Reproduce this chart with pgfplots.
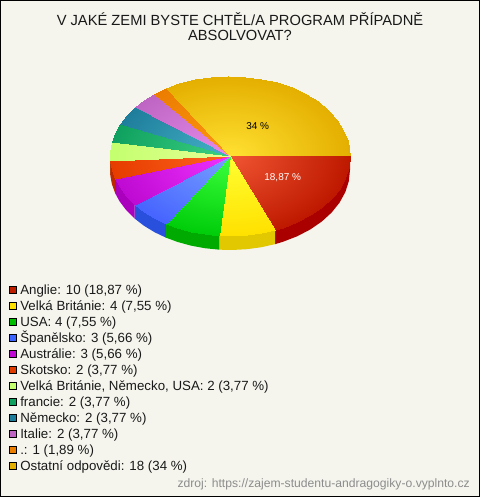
\documentclass[border=0pt]{standalone}
\usepackage{pgfplots}
\pgfplotsset{compat=1.18}
\usepackage{fontspec}
\setmainfont{Liberation Sans}
\definecolor{bg}{RGB}{245,245,238}
\definecolor{c1}{RGB}{190,30,0}
\definecolor{c2}{RGB}{255,225,0}
\definecolor{c3}{RGB}{0,190,0}
\definecolor{c4}{RGB}{60,100,255}
\definecolor{c5}{RGB}{190,10,210}
\definecolor{c6}{RGB}{225,60,0}
\definecolor{c7}{RGB}{195,255,110}
\definecolor{c8}{RGB}{15,160,95}
\definecolor{c9}{RGB}{30,125,155}
\definecolor{c10}{RGB}{190,100,195}
\definecolor{c11}{RGB}{235,125,0}
\definecolor{c12}{RGB}{228,175,0}
\definecolor{w1}{RGB}{170,0,0}
\definecolor{w2}{RGB}{225,200,0}
\definecolor{w3}{RGB}{0,170,0}
\definecolor{w4}{RGB}{40,80,220}
\definecolor{w5}{RGB}{170,0,190}
\definecolor{w6}{RGB}{190,40,0}
\definecolor{w7}{RGB}{160,215,90}
\pgfplotsset{
  table/pt/.style={x expr=230+120*\thisrow{r}*cos(\thisrow{t}), y expr=156+80*\thisrow{r}*sin(\thisrow{t})},
  table/ps/.style={x expr=230+120*cos(\thisrow{t}), y expr=156+80*sin(\thisrow{t})+\thisrow{h}},
  wedge/.style={forget plot, surf, shader=interp, mesh/cols=2, point meta=\thisrow{r}, point meta min=0, point meta max=1},
  wall/.style={forget plot, fill=#1, draw=none, mark=none},
  swatch/.style={legend image code/.code={\draw[fill=#1,draw=black,line width=.8pt] (0pt,-1pt) rectangle (7pt,6pt);}},
  colormap={s1}{rgb255=(240,85,50) rgb255=(190,25,0)},
  colormap={s2}{rgb255=(255,255,50) rgb255=(255,225,0)},
  colormap={s3}{rgb255=(60,255,60) rgb255=(0,205,10)},
  colormap={s4}{rgb255=(120,160,255) rgb255=(70,100,255)},
  colormap={s5}{rgb255=(240,50,255) rgb255=(190,10,210)},
  colormap={s6}{rgb255=(255,100,30) rgb255=(230,60,0)},
  colormap={s7}{rgb255=(230,255,150) rgb255=(195,255,110)},
  colormap={s8}{rgb255=(60,210,130) rgb255=(15,160,95)},
  colormap={s9}{rgb255=(70,180,200) rgb255=(30,125,155)},
  colormap={s10}{rgb255=(230,140,235) rgb255=(190,100,195)},
  colormap={s11}{rgb255=(255,150,20) rgb255=(235,125,0)},
  colormap={s12}{rgb255=(255,225,50) rgb255=(228,175,0)},
}
\begin{document}
\begin{tikzpicture}
\begin{axis}[
  scale only axis, width=479pt, height=496pt,
  xmin=0.5, xmax=479.5, ymin=0.5, ymax=496.5, y dir=reverse,
  xtick=\empty, ytick=\empty, clip=false,
  axis line style={black, line width=1pt},
  axis background/.style={fill=bg},
  legend cell align=left,
  legend style={at={(axis cs:9,284)}, anchor=north west, draw=none, fill=none, inner sep=0pt, outer sep=0pt,
    font=\fontsize{13.3}{15}\selectfont, row sep=0pt,
    nodes={inner sep=0pt, text height=10.5pt, text depth=5.5pt, text=black!90}, /tikz/column 1/.style={column sep=3.5pt}},
]
% side walls (values: 10,4,4,3,3,2,2,2,2,2,1,18 of 53; boundaries in degrees)
\addplot[wall=w1] table[ps]{
t h
0 14
8 14
16 14
24 14
32 14
40 14
48 14
56 14
64 14
67.92 14
67.92 0
0 0
};
\addplot[wall=w2] table[ps]{
t h
67.92 14
75 14
82 14
89 14
95.09 14
95.09 0
67.92 0
};
\addplot[wall=w3] table[ps]{
t h
95.09 14
102 14
109 14
116 14
122.26 14
122.26 0
95.09 0
};
\addplot[wall=w4] table[ps]{
t h
122.26 14
129 14
136 14
142.64 14
142.64 0
122.26 0
};
\addplot[wall=w5] table[ps]{
t h
142.64 14
150 14
157 14
163.02 14
163.02 0
142.64 0
};
\addplot[wall=w6] table[ps]{
t h
163.02 14
170 14
176.6 14
176.6 0
163.02 0
};
\addplot[wall=w7] table[ps]{
t h
176.6 14
180 14
180 0
176.6 0
};
% top surface
\addplot[wedge, colormap name=s1] table[pt]{
t r
0 0
0 1
8 0
8 1
16 0
16 1
24 0
24 1
32 0
32 1
40 0
40 1
48 0
48 1
56 0
56 1
64 0
64 1
67.92 0
67.92 1
};
\addplot[wedge, colormap name=s2] table[pt]{
t r
67.92 0
67.92 1
75 0
75 1
82 0
82 1
89 0
89 1
95.09 0
95.09 1
};
\addplot[wedge, colormap name=s3] table[pt]{
t r
95.09 0
95.09 1
102 0
102 1
109 0
109 1
116 0
116 1
122.26 0
122.26 1
};
\addplot[wedge, colormap name=s4] table[pt]{
t r
122.26 0
122.26 1
129 0
129 1
136 0
136 1
142.64 0
142.64 1
};
\addplot[wedge, colormap name=s5] table[pt]{
t r
142.64 0
142.64 1
150 0
150 1
157 0
157 1
163.02 0
163.02 1
};
\addplot[wedge, colormap name=s6] table[pt]{
t r
163.02 0
163.02 1
170 0
170 1
176.6 0
176.6 1
};
\addplot[wedge, colormap name=s7] table[pt]{
t r
176.6 0
176.6 1
183 0
183 1
190.19 0
190.19 1
};
\addplot[wedge, colormap name=s8] table[pt]{
t r
190.19 0
190.19 1
197 0
197 1
203.77 0
203.77 1
};
\addplot[wedge, colormap name=s9] table[pt]{
t r
203.77 0
203.77 1
210 0
210 1
217.36 0
217.36 1
};
\addplot[wedge, colormap name=s10] table[pt]{
t r
217.36 0
217.36 1
224 0
224 1
230.94 0
230.94 1
};
\addplot[wedge, colormap name=s11] table[pt]{
t r
230.94 0
230.94 1
237.74 0
237.74 1
};
\addplot[wedge, colormap name=s12] table[pt]{
t r
237.74 0
237.74 1
245 0
245 1
253 0
253 1
261 0
261 1
269 0
269 1
277 0
277 1
285 0
285 1
293 0
293 1
301 0
301 1
309 0
309 1
317 0
317 1
325 0
325 1
333 0
333 1
341 0
341 1
349 0
349 1
360 0
360 1
};
\addlegendimage{swatch=c1}\addlegendentry{Anglie: 10 (18,87 \%)}
\addlegendimage{swatch=c2}\addlegendentry{Velká Británie: 4 (7,55 \%)}
\addlegendimage{swatch=c3}\addlegendentry{USA: 4 (7,55 \%)}
\addlegendimage{swatch=c4}\addlegendentry{Španělsko: 3 (5,66 \%)}
\addlegendimage{swatch=c5}\addlegendentry{Austrálie: 3 (5,66 \%)}
\addlegendimage{swatch=c6}\addlegendentry{Skotsko: 2 (3,77 \%)}
\addlegendimage{swatch=c7}\addlegendentry{Velká Británie, Německo, USA: 2 (3,77 \%)}
\addlegendimage{swatch=c8}\addlegendentry{francie: 2 (3,77 \%)}
\addlegendimage{swatch=c9}\addlegendentry{Německo: 2 (3,77 \%)}
\addlegendimage{swatch=c10}\addlegendentry{Italie: 2 (3,77 \%)}
\addlegendimage{swatch=c11}\addlegendentry{.: 1 (1,89 \%)}
\addlegendimage{swatch=c12}\addlegendentry{Ostatní odpovědi: 18 (34 \%)}
\node[font=\fontsize{14.7}{15.5}\selectfont, text=black!90, align=center] at (axis cs:240,26.8) {V JAKÉ ZEMI BYSTE CHTĚL/A PROGRAM PŘÍPADNĚ\\ABSOLVOVAT?};
\node[font=\fontsize{10}{12}\selectfont, text=black] at (axis cs:257.7,126) {34 \%};
\node[font=\fontsize{10}{12}\selectfont, text=white] at (axis cs:282.7,177.7) {18,87 \%};
\node[font=\fontsize{12.15}{14}\selectfont, text=black!45, anchor=east, inner sep=0pt] at (axis cs:470,484) {zdroj: https://zajem-studentu-andragogiky-o.vyplnto.cz};
\end{axis}
\end{tikzpicture}
\end{document}
